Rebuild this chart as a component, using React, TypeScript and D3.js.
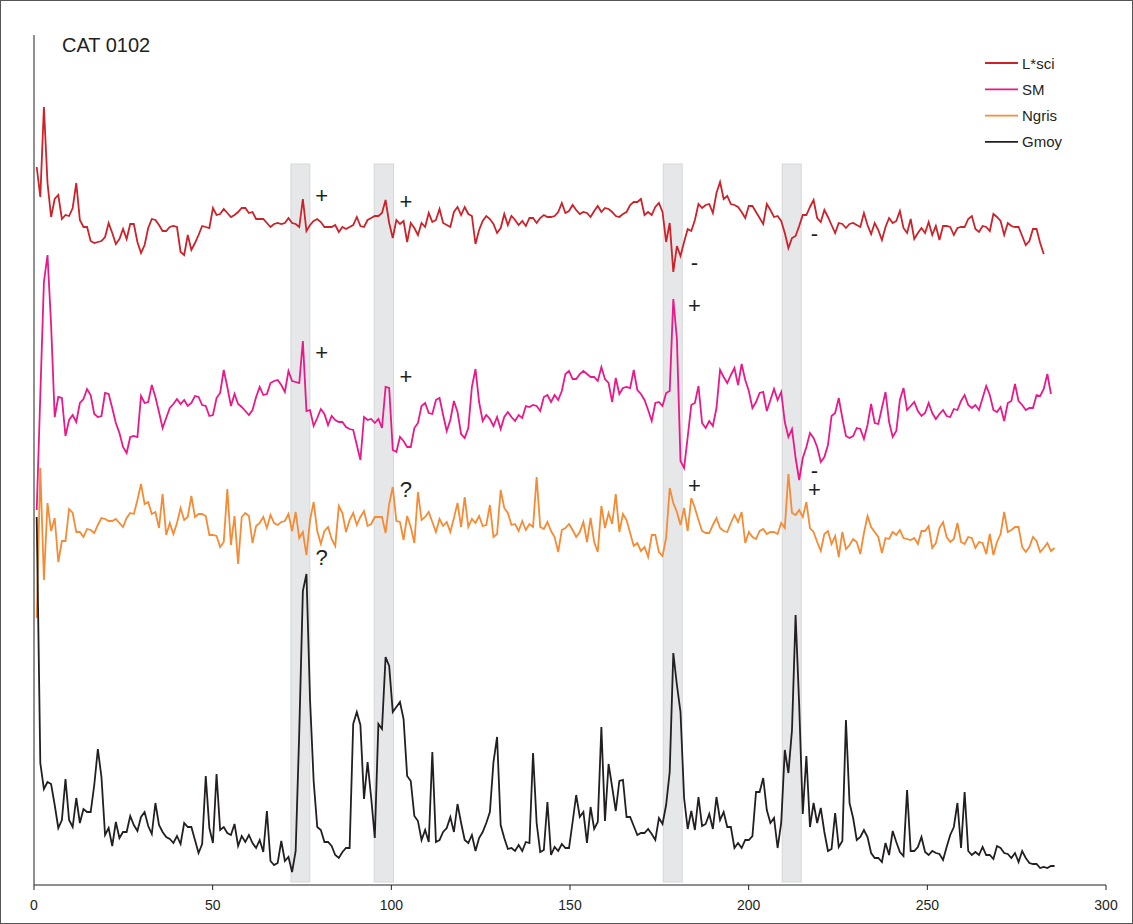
import React from "react";
import * as d3 from "d3";

// ---- data (unitless values) ----
const seriesNames = ["L*sci", "SM", "Ngris", "Gmoy"];
const seriesColors = ["#cc2229", "#e8198b", "#f58b34", "#231f20"];

// sampling grid (depth index -> axis units)
const X0 = 0.76;
const DX = 1.0065;

const lsci = [
  718, 688, 778, 702, 668, 686, 690, 666, 670, 669,
  677, 702, 665, 658, 658, 644, 642, 643, 644, 648,
  662, 652, 641, 646, 656, 646, 661, 661, 643, 632,
  640, 657, 666, 665, 660, 654, 654, 658, 659, 658,
  633, 630, 650, 635, 642, 650, 659, 658, 657, 677,
  670, 671, 676, 672, 668, 670, 673, 677, 677, 672,
  673, 666, 666, 666, 662, 658, 661, 662, 661, 662,
  667, 662, 661, 658, 686, 654, 660, 664, 666, 663,
  658, 658, 658, 660, 653, 658, 656, 658, 660, 668,
  659, 658, 665, 667, 669, 669, 672, 685, 662, 647,
  665, 661, 664, 643, 662, 657, 650, 662, 658, 672,
  663, 665, 676, 662, 660, 658, 673, 678, 670, 678,
  671, 669, 641, 655, 664, 669, 666, 661, 652, 657,
  671, 660, 669, 665, 660, 664, 659, 667, 667, 662,
  667, 670, 668, 668, 669, 673, 682, 672, 674, 680,
  675, 671, 673, 672, 668, 674, 679, 673, 677, 676,
  673, 669, 668, 671, 673, 680, 683, 683, 686, 670,
  673, 670, 678, 682, 673, 643, 662, 613, 639, 629,
  643, 656, 654, 665, 681, 677, 680, 681, 672, 692,
  703, 686, 689, 681, 680, 678, 673, 667, 679, 679,
  673, 667, 661, 681, 675, 668, 669, 664, 652, 637,
  647, 649, 659, 670, 670, 678, 685, 667, 663, 675,
  668, 660, 652, 662, 661, 657, 661, 662, 660, 658,
  672, 660, 651, 662, 655, 645, 658, 667, 662, 664,
  674, 657, 652, 666, 646, 652, 657, 652, 663, 650,
  659, 645, 659, 659, 658, 650, 657, 658, 658, 666,
  669, 656, 653, 659, 658, 654, 671, 668, 664, 650,
  662, 659, 658, 658, 649, 640, 644, 656, 656, 642,
  631,
];

const sm = [
  375, 490, 603, 630, 560, 468, 488, 487, 449, 465,
  470, 463, 482, 486, 496, 490, 471, 468, 469, 492,
  491, 477, 462, 452, 438, 432, 448, 449, 448, 489,
  482, 483, 500, 488, 473, 457, 467, 477, 481, 486,
  481, 485, 479, 482, 489, 488, 480, 479, 469, 470,
  487, 492, 515, 498, 479, 491, 481, 478, 474, 470,
  475, 488, 498, 490, 491, 502, 504, 505, 500, 493,
  514, 504, 503, 502, 544, 474, 475, 459, 467, 476,
  471, 460, 469, 465, 463, 463, 458, 456, 455, 440,
  425, 468, 465, 466, 462, 466, 457, 498, 497, 435,
  433, 448, 444, 438, 438, 457, 462, 479, 482, 472,
  471, 485, 487, 470, 454, 465, 484, 473, 451, 447,
  457, 498, 516, 483, 464, 470, 466, 459, 468, 456,
  468, 473, 468, 464, 470, 467, 479, 478, 480, 479,
  474, 488, 490, 483, 490, 485, 494, 511, 514, 506,
  506, 511, 514, 511, 508, 508, 504, 518, 506, 502,
  483, 507, 491, 497, 498, 497, 515, 495, 491, 485,
  475, 464, 482, 483, 479, 492, 494, 586, 546, 424,
  417, 448, 480, 482, 499, 462, 457, 464, 459, 477,
  515, 508, 502, 510, 517, 500, 521, 505, 494, 477,
  483, 492, 493, 474, 485, 496, 485, 493, 463, 448,
  456, 427, 405, 427, 438, 452, 447, 438, 423, 428,
  440, 469, 472, 487, 467, 449, 447, 449, 457, 456,
  446, 460, 481, 462, 461, 477, 493, 463, 448, 454,
  485, 497, 475, 479, 483, 474, 469, 472, 482, 472,
  466, 471, 475, 469, 468, 476, 475, 484, 490, 480,
  477, 480, 475, 487, 499, 490, 475, 473, 478, 464,
  482, 484, 501, 484, 480, 475, 477, 477, 490, 489,
  496, 511, 491,
];

const ngris = [
  267, 417, 305, 382, 354, 367, 323, 344, 344, 376,
  372, 353, 353, 348, 356, 355, 352, 360, 367, 366,
  364, 364, 366, 362, 358, 367, 372, 371, 385, 401,
  381, 383, 371, 373, 357, 391, 350, 362, 351, 362,
  377, 365, 368, 389, 368, 371, 371, 369, 350, 350,
  349, 338, 343, 396, 340, 369, 321, 368, 372, 369,
  342, 359, 362, 368, 357, 370, 362, 360, 363, 364,
  371, 354, 373, 347, 353, 330, 365, 383, 354, 341,
  354, 358, 346, 339, 379, 372, 353, 365, 372, 360,
  368, 374, 359, 361, 368, 368, 368, 352, 381, 398,
  364, 363, 345, 369, 358, 342, 393, 365, 368, 373,
  363, 353, 366, 359, 363, 353, 367, 382, 358, 388,
  358, 366, 362, 369, 359, 360, 380, 348, 351, 395,
  377, 372, 360, 361, 354, 364, 355, 361, 358, 408,
  358, 356, 363, 354, 348, 333, 355, 357, 361, 355,
  348, 353, 363, 343, 367, 343, 333, 379, 357, 372,
  361, 391, 353, 371, 365, 352, 339, 342, 334, 338,
  328, 350, 350, 333, 329, 347, 397, 382, 373, 360,
  377, 354, 387, 377, 365, 354, 352, 352, 360, 367,
  357, 354, 353, 362, 370, 363, 373, 342, 353, 348,
  346, 354, 356, 351, 353, 353, 351, 362, 357, 411,
  372, 370, 375, 368, 383, 357, 353, 343, 334, 351,
  354, 341, 349, 328, 353, 336, 340, 346, 343, 331,
  352, 369, 358, 353, 348, 332, 347, 346, 353, 350,
  355, 347, 346, 345, 347, 341, 354, 354, 359, 337,
  342, 357, 363, 348, 343, 346, 362, 343, 341, 348,
  347, 337, 343, 342, 331, 351, 330, 343, 351, 373,
  353, 355, 358, 358, 338, 333, 338, 348, 344, 333,
  337, 342, 334, 337,
];

const gmoy = [
  368, 122, 96, 103, 101, 80, 57, 65, 106, 65,
  58, 87, 62, 76, 73, 73, 100, 136, 108, 50,
  57, 39, 63, 47, 53, 53, 69, 60, 54, 68,
  73, 59, 51, 82, 60, 53, 48, 46, 42, 49,
  41, 62, 58, 58, 45, 32, 41, 109, 57, 42,
  111, 55, 58, 52, 50, 61, 39, 49, 43, 50,
  42, 37, 45, 33, 74, 24, 20, 22, 44, 24,
  28, 13, 34, 153, 294, 311, 185, 104, 58, 55,
  43, 43, 39, 30, 27, 33, 37, 37, 161, 173,
  160, 86, 123, 87, 47, 161, 156, 228, 219, 173,
  178, 183, 166, 109, 104, 69, 64, 45, 55, 43,
  133, 43, 45, 53, 57, 68, 53, 81, 62, 45,
  42, 50, 34, 47, 53, 62, 73, 123, 148, 60,
  47, 36, 37, 34, 40, 34, 43, 42, 132, 62,
  33, 35, 83, 30, 38, 34, 41, 37, 37, 63,
  90, 68, 73, 42, 78, 56, 63, 158, 64, 121,
  98, 74, 104, 105, 68, 68, 59, 50, 52, 52,
  56, 51, 45, 67, 61, 80, 113, 232, 200, 173,
  87, 56, 74, 55, 88, 59, 61, 71, 56, 88,
  65, 73, 58, 58, 37, 42, 37, 45, 45, 49,
  93, 93, 107, 75, 62, 67, 37, 62, 135, 112,
  155, 270, 180, 71, 129, 58, 82, 62, 77, 53,
  34, 36, 72, 38, 44, 165, 82, 67, 45, 48,
  55, 48, 32, 27, 27, 23, 42, 30, 54, 43,
  33, 29, 95, 34, 34, 38, 48, 33, 30, 34,
  32, 31, 25, 38, 50, 58, 82, 37, 93, 34,
  30, 33, 30, 38, 30, 30, 26, 39, 37, 32,
  31, 27, 32, 23, 34, 27, 22, 21, 21, 17,
  18, 17, 19, 19,
];

const seriesValues = [lsci, sm, ngris, gmoy];

// highlighted intervals (axis units)
const bandStarts = [71.9, 95.2, 176.1, 209.4];
const bandEnds = [77.2, 100.6, 181.4, 214.7];
const bandTop = 721;
const bandBottom = 3;

// annotations: x (axis units), value level, symbol
const noteX = [80.5, 104.1, 184.8, 218.4, 80.5, 104.1, 184.8, 218.4, 80.5, 104.1, 184.8, 218.4];
const noteY = [690, 684, 623, 652, 533, 509, 580, 415, 328, 396, 400, 396];
const noteText = ["+", "+", "-", "-", "+", "+", "+", "-", "?", "?", "+", "+"];

const xTicks = [0, 50, 100, 150, 200, 250, 300];

const W = 1133;
const H = 924;
const FONT = "'Liberation Sans', Arial, Helvetica, sans-serif";

export default function App() {
  const x = d3.scaleLinear().domain([0, 300]).range([34, 1106]);
  const y = d3.scaleLinear().domain([0, 850]).range([885, 35]);
  const line = d3
    .line<number>()
    .x((_, i) => x(X0 + i * DX))
    .y((d) => y(d));

  return (
    <div style={{ position: "absolute", left: 0, top: 0 }}>
      <svg width={W} height={H} style={{ display: "block", background: "#fff" }} fontFamily={FONT}>
        <rect x={0.5} y={0.5} width={W - 1} height={H - 1} fill="none" stroke="#555" strokeWidth={1} />
        {/* bands */}
        {bandStarts.map((b, i) => (
          <rect
            key={"b" + i}
            x={x(b)}
            y={y(bandTop)}
            width={x(bandEnds[i]) - x(b)}
            height={y(bandBottom) - y(bandTop)}
            fill="#e6e7e8"
            stroke="#d6d7d9"
            strokeWidth={1}
          />
        ))}
        {/* series */}
        {seriesValues.map((vals, i) => (
          <path
            key={"s" + i}
            d={line(vals) || ""}
            fill="none"
            stroke={seriesColors[i]}
            strokeWidth={1.8}
            strokeLinejoin="miter"
          />
        ))}
        {/* annotations */}
        {noteText.map((t, i) => (
          <text
            key={"n" + i}
            x={x(noteX[i])}
            y={y(noteY[i])}
            textAnchor="middle"
            dominantBaseline="central"
            fontSize={22}
            fill="#231f20"
          >
            {t}
          </text>
        ))}
        {/* axes */}
        <line x1={x(0)} x2={x(0)} y1={35} y2={y(0)} stroke="#231f20" strokeWidth={1} />
        <line x1={x(0)} x2={x(300)} y1={y(0)} y2={y(0)} stroke="#231f20" strokeWidth={1} />
        {xTicks.map((t) => (
          <g key={"t" + t}>
            <line x1={x(t)} x2={x(t)} y1={y(0)} y2={y(0) + 5} stroke="#231f20" strokeWidth={1} />
            <text x={x(t)} y={y(0) + 25} textAnchor="middle" fontSize={14} fill="#231f20">
              {t}
            </text>
          </g>
        ))}
        {/* title */}
        <text x={62} y={52} fontSize={20} fill="#231f20">
          CAT 0102
        </text>
        {/* legend */}
        {seriesNames.map((n, i) => (
          <g key={"l" + i} transform={`translate(985, ${63 + i * 26.3})`}>
            <line x1={0} x2={33} y1={0} y2={0} stroke={seriesColors[i]} strokeWidth={1.8} />
            <text x={37} y={0} dominantBaseline="central" fontSize={15} fill="#231f20">
              {n}
            </text>
          </g>
        ))}
      </svg>
    </div>
  );
}
